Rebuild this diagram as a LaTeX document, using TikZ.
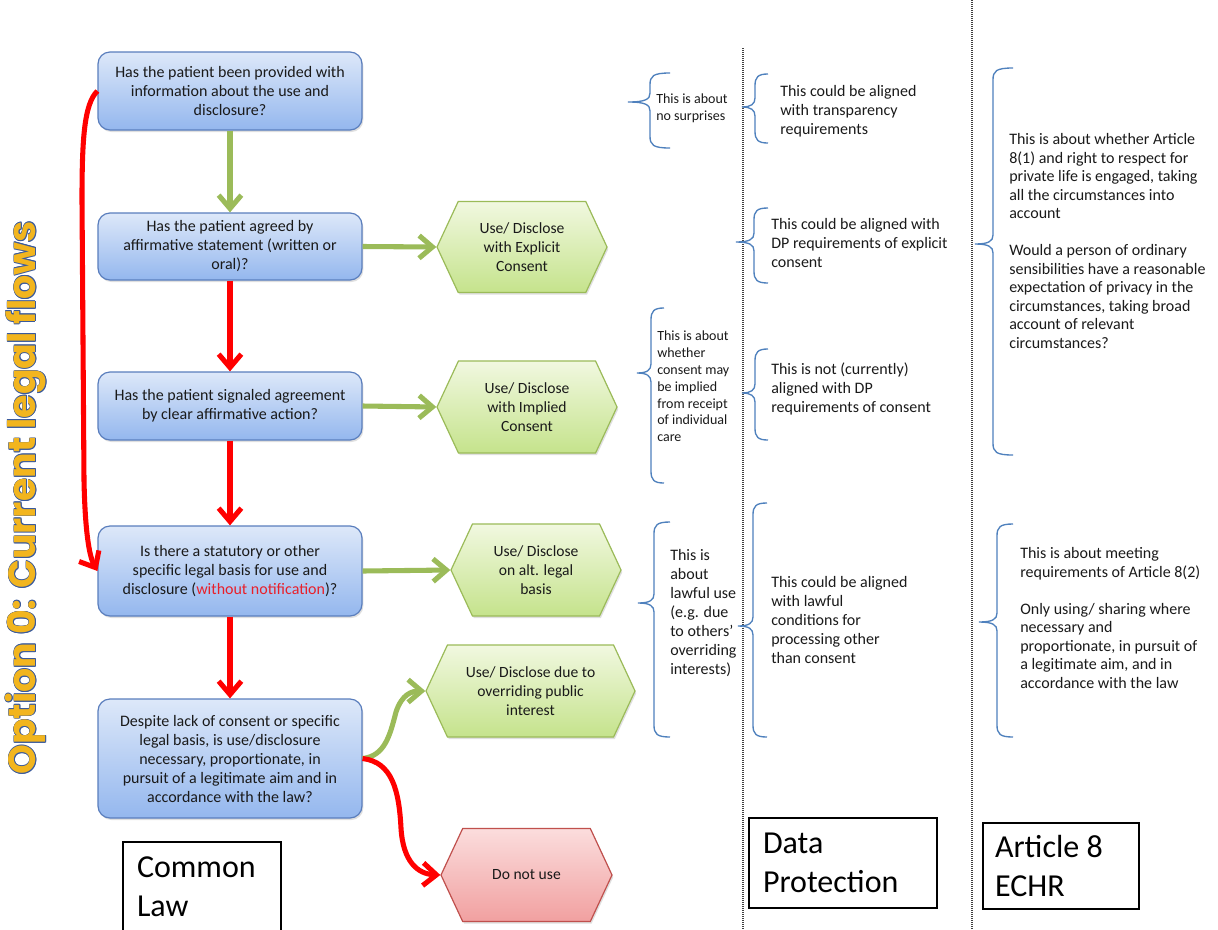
\documentclass[tikz,border=0pt]{standalone}
\usepackage{fontspec}
\usepackage{graphicx}
\setmainfont{Carlito}
\newfontfamily\titlefont{Poppins}
\usetikzlibrary{arrows.meta,shapes.symbols,shadows}
\definecolor{boxtop}{HTML}{DDE8F9}
\definecolor{boxbot}{HTML}{94B7EE}
\definecolor{boxline}{HTML}{5A7EBD}
\definecolor{hextop}{HTML}{F1F8E0}
\definecolor{hexbot}{HTML}{C5E38C}
\definecolor{hexline}{HTML}{9BBB59}
\definecolor{redtop}{HTML}{FBDDDD}
\definecolor{redbot}{HTML}{F1A0A0}
\definecolor{redline}{HTML}{C0504D}
\definecolor{garrowc}{HTML}{9BBB59}
\definecolor{rarrowc}{HTML}{FF0000}
\definecolor{bracec}{HTML}{4F81BD}
\definecolor{txt}{HTML}{1A1A1A}
\definecolor{titlegold}{HTML}{F2B51E}
\definecolor{titleblue}{HTML}{3A5A9C}
\definecolor{noteRed}{HTML}{E8202A}
\newcommand\ttltext{Option 0: Current legal flows}
\newcommand\tcopy[2]{\makebox[0pt][l]{\kern#1\raisebox{#2}{\textcolor{titleblue}{\ttltext}}}}
\newcommand\mybrace[6]{%
  \draw[bracestyle] (#3,#4) .. controls ({#2+3},#4) and (#2,{#4+3}) .. (#2,{#4+12})
    -- (#2,{#5-9}) .. controls (#2,{#5-3}) and ({#2-4},#5) .. (#1,#5)
    .. controls ({#2-4},#5) and (#2,{#5+3}) .. (#2,{#5+9})
    -- (#2,{#6-12}) .. controls (#2,{#6-3}) and ({#2+3},#6) .. (#3,#6);}
\tikzset{
  qbox/.style={rectangle, rounded corners=9pt, draw=boxline, line width=0.9pt,
    top color=boxtop, bottom color=boxbot, minimum width=198pt, align=center,
    text=txt, font=\fontsize{12}{14.25}\selectfont, inner sep=2pt,
    drop shadow={opacity=0.25, shadow xshift=1pt, shadow yshift=-1.5pt}},
  hexbox/.style={shape=signal, signal to=east and west, signal pointer angle=130,
    draw=hexline, line width=0.9pt, top color=hextop, bottom color=hexbot,
    align=center, text=txt, font=\fontsize{11.7}{14.25}\selectfont, inner sep=1pt,
    drop shadow={opacity=0.25, shadow xshift=1pt, shadow yshift=-1.5pt}},
  redhex/.style={hexbox, draw=redline, top color=redtop, bottom color=redbot},
  garr/.style={draw=garrowc, line width=3.8pt, -{Straight Barb[length=10pt,width=17pt]}},
  rarr/.style={draw=rarrowc, line width=3.8pt, -{Straight Barb[length=10pt,width=17pt]}},
  bracestyle/.style={draw=bracec, line width=1pt},
  note/.style={anchor=west, align=flush left, inner sep=0pt, text=txt},
  smallfont/.style={font=\fontsize{10.5}{13}\selectfont},
  midfont/.style={font=\fontsize{12}{14.25}\selectfont},
  lbox/.style={draw=black, line width=1.1pt, align=flush left, text=black,
    font=\fontsize{24}{29}\selectfont, inner ysep=0pt},
  sepline/.style={draw=black!75, line width=0.8pt, dash pattern=on 0.75pt off 0.75pt}
}
\begin{document}
\begin{tikzpicture}[x=0.75pt, y=-0.75pt]
\fill[white] (0,0) rectangle (1218,929);
\path[use as bounding box] (0,0) rectangle (1218,929);
\clip (0,0) rectangle (1218,929);

% separators
\draw[sepline] (743,48) -- (743,929);
\draw[sepline] (972,0) -- (972,929);

% title
\node[rotate=90, inner sep=0pt] (title) at (26,498) {\resizebox{415pt}{!}{\titlefont\bfseries\fontsize{26}{30}\selectfont
  \tcopy{0.55pt}{0pt}\tcopy{-0.55pt}{0pt}\tcopy{0pt}{0.55pt}\tcopy{0pt}{-0.55pt}%
  \tcopy{0.4pt}{0.4pt}\tcopy{-0.4pt}{0.4pt}\tcopy{0.4pt}{-0.4pt}\tcopy{-0.4pt}{-0.4pt}%
  \textcolor{titlegold}{\ttltext}}};

% question boxes
\node[qbox, minimum height=58.5pt] (b1) at (230,91) {Has the patient been provided with\\information about the use and\\disclosure?};
\node[qbox, minimum height=50.25pt] (b2) at (230,246.5) {Has the patient agreed by\\affirmative statement (written or\\oral)?};
\node[qbox, minimum height=51pt] (b3) at (230,406) {Has the patient signaled agreement\\by clear affirmative action?};
\node[qbox, minimum height=67.5pt] (b4) at (230,571) {Is there a statutory or other\\specific legal basis for use and\\disclosure (\textcolor{noteRed}{without notification})?};
\node[qbox, minimum height=89.25pt] (b5) at (230,758.5) {Despite lack of consent or specific\\legal basis, is use/disclosure\\necessary, proportionate, in\\pursuit of a legitimate aim and in\\accordance with the law?};

% outcome hexagons
\node[hexbox, minimum width=127.5pt, minimum height=68.25pt] (h1) at (522,247) {Use/ Disclose\\with Explicit\\Consent};
\node[hexbox, minimum width=135pt, minimum height=69pt] (h2) at (527,407) {Use/ Disclose\\with Implied\\Consent};
\node[hexbox, minimum width=127.5pt, minimum height=69pt] (h3) at (536,570) {Use/ Disclose\\on alt. legal\\basis};
\node[hexbox, minimum width=156.75pt, minimum height=69pt] (h4) at (530.5,691) {Use/ Disclose due to\\overriding public\\interest};
\node[redhex, minimum width=128.25pt, minimum height=69.75pt] (h5) at (526.5,875) {Do not use};

% flow arrows
\draw[garr] (b1) -- (b2);
\draw[rarr] (b2) -- (b3);
\draw[rarr] (b3) -- (b4);
\draw[rarr] (b4) -- (b5);
\draw[garr] (b2.east) -- (h1.west);
\draw[garr] (b3.east) -- (h2.west);
\draw[garr] (b4.east) -- (h3.west);
\draw[garr] (b5.east) .. controls (385,756) and (390,735) .. (396,712) .. controls (402,694) and (412,691) .. (h4.west);
\draw[rarr] (b5.east) .. controls (392,762) and (399,790) .. (401,828) .. controls (403,862) and (418,874) .. (h5.west);
\draw[rarr] (b1.west) .. controls (84,104) and (82,140) .. (82,200) -- (84,480) .. controls (85,530) and (89,556) .. (b4.west);

% braces
\mybrace{628}{650}{670}{73}{102}{148}
\mybrace{742}{755}{768}{74}{107}{143}
\mybrace{736}{754}{768}{208}{242}{283}
\mybrace{637}{651}{664}{308}{373}{483}
\mybrace{742}{755}{768}{349}{393}{440}
\mybrace{638}{654}{670}{522}{603}{737}
\mybrace{738}{753}{767}{503}{626}{737}
\mybrace{975}{993}{1013}{68}{244}{455}
\mybrace{979}{997}{1013}{524}{622}{737}

% notes
\node[note, smallfont] (n1) at (656,108) {This is about\\no surprises};
\node[note, font=\fontsize{10.5}{12.6}\selectfont] (n2) at (657,386.5) {This is about\\whether\\consent may\\be implied\\from receipt\\of individual\\care};
\node[note, midfont] (n3) at (670,613.5) {This is\\about\\lawful use\\(e.g. due\\to others’\\overriding\\interests)};
\node[note, midfont] (d1) at (780,111) {This could be aligned\\with transparency\\requirements};
\node[note, midfont] (d2) at (771,243) {This could be aligned with\\DP requirements of explicit\\consent};
\node[note, midfont] (d3) at (771,389) {This is not (currently)\\aligned with DP\\requirements of consent};
\node[note, midfont] (d4) at (771,619.5) {This could be aligned\\with lawful\\conditions for\\processing other\\than consent};
\node[note, font=\fontsize{12}{13.9}\selectfont] (e1) at (1009,241) {This is about whether Article\\8(1) and right to respect for\\private life is engaged, taking\\all the circumstances into\\account\\[13.9pt]Would a person of ordinary\\sensibilities have a reasonable\\expectation of privacy in the\\circumstances, taking broad\\account of relevant\\circumstances?};
\node[note, font=\fontsize{12}{13.9}\selectfont] (e2) at (1020,618) {This is about meeting\\requirements of Article 8(2)\\[13.9pt]Only using/ sharing where\\necessary and\\proportionate, in pursuit of\\a legitimate aim, and in\\accordance with the law};

% column labels
\node[lbox, minimum width=118.5pt, minimum height=67.5pt, inner xsep=10.5pt, text width=97.5pt] (cl) at (202,887) {Common\\Law};
\node[lbox, minimum width=141pt, minimum height=67.5pt, inner xsep=10.5pt, text width=120pt] (dp) at (843,863) {Data\\Protection};
\node[lbox, minimum width=117pt, minimum height=64.5pt, inner xsep=9pt, text width=99pt] (ar) at (1061,866) {Article 8\\ECHR};
\end{tikzpicture}
\end{document}
